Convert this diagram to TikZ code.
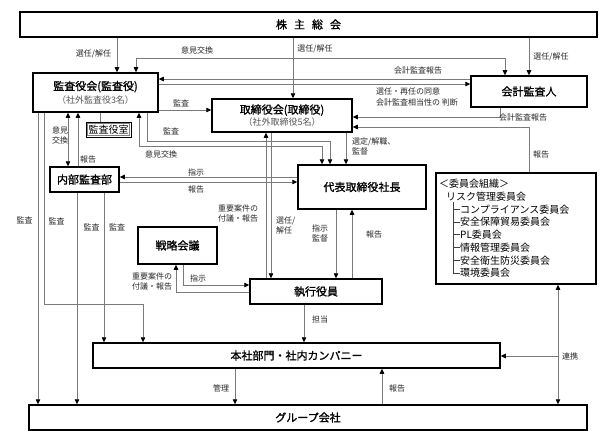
\documentclass[tikz,border=0pt]{standalone}
\usepackage{fontspec}
\setmainfont{Noto Sans CJK JP}
\newfontfamily\titlefont[FakeBold=1.2]{Noto Sans CJK JP}
\usetikzlibrary{arrows.meta}
\definecolor{lineg}{HTML}{7A7A7A}
\definecolor{subg}{HTML}{555555}
\newcommand{\subtxt}[1]{{\fontsize{9}{12}\selectfont\normalfont\color{subg}#1}}
\begin{document}
\begin{tikzpicture}[x=1pt,y=-1pt,
  box/.style={draw=black, line width=1.5pt, fill=white, inner sep=0pt, align=center,
    font=\titlefont\fontsize{11}{14}\selectfont},
  conn/.style={draw=lineg, line width=0.7pt},
  arr/.style={-{Triangle[length=5pt,width=4.5pt,color=black]}},
  darr/.style={{Triangle[length=5pt,width=4.5pt,color=black]}-{Triangle[length=5pt,width=4.5pt,color=black]}},
  lbl/.style={inner sep=0pt, font=\fontsize{8}{10}\selectfont, text=black!85},
  cfont/.style={inner sep=0pt, anchor=west, font=\fontsize{10}{12}\selectfont}
]
\useasboundingbox (0,0) rectangle (613,444);

% boxes
\node[box, minimum width=577pt, minimum height=25pt] (kabu) at (308.5,24.5) {株\hspace{7pt}主\hspace{7pt}総\hspace{7pt}会};
\node[box, minimum width=125pt, minimum height=39pt] (kansa) at (95.5,92.5) {監査役会(監査役)\\[-1pt]\subtxt{（社外監査役3名）}};
\node[draw=black, line width=0.8pt, inner sep=0pt, minimum width=45pt, minimum height=15pt,
  font=\fontsize{10}{12}\selectfont] (ks) at (108.5,129.5) {監査役室};
\draw[gray, line width=0.8pt] ([shift={(1.6,1.6)}]ks.north west) rectangle ([shift={(-1.6,-1.6)}]ks.south east);
\node[box, minimum width=140pt, minimum height=33pt] (tori) at (282,115.5) {取締役会(取締役)\\[-2pt]\subtxt{（社外取締役5名）}};
\node[box, minimum width=116pt, minimum height=31pt] (kaikei) at (529,91.5) {会計監査人};
\node[box, minimum width=69pt, minimum height=25pt] (naibu) at (84.5,179.5) {内部監査部};
\node[box, minimum width=128pt, minimum height=44pt] (daihyo) at (362,187) {代表取締役社長};
\node[box, minimum width=160pt, minimum height=111pt] (iinkai) at (516,228.5) {};
\node[box, minimum width=79pt, minimum height=37pt] (senryaku) at (177.5,245.5) {戦略会議};
\node[box, minimum width=132pt, minimum height=25pt] (shikko) at (316,291.5) {執行役員};
\node[box, minimum width=407pt, minimum height=25pt] (honsha) at (296.5,355.5) {本社部門・社内カンパニー};
\node[box, minimum width=558pt, minimum height=25pt] (group) at (308,417.5) {グループ会社};

% committee contents
\node[cfont] (c0) at (439,184) {＜委員会組織＞};
\node[cfont] (c1) at (446,197) {リスク管理委員会};
\node[cfont] (c2) at (460,209.5) {コンプライアンス委員会};
\node[cfont] (c3) at (460,222) {安全保障貿易委員会};
\node[cfont] (c4) at (460,234.5) {PL委員会};
\node[cfont] (c5) at (460,247.5) {情報管理委員会};
\node[cfont] (c6) at (460,260.5) {安全衛生防災委員会};
\node[cfont] (c7) at (460,273) {環境委員会};
\draw[black!75, line width=0.6pt] (453,0 |- c1.south) -- (453,0 |- c7.west);
\foreach \c in {c2,c3,c4,c5,c6,c7} \draw[black!75, line width=0.6pt] (453,0 |- \c.west) -- (\c.west);

% connectors
\draw[conn] (100,0 |- kansa.south) -- (100,0 |- ks.north);
\draw[conn,arr] (117,0 |- kabu.south) -- (117,0 |- kansa.north);
\draw[conn,darr] (136,0 |- kansa.north) -- (136,58) -- (505,58) -- (505,0 |- kaikei.north);
\draw[conn,arr] (293,0 |- kabu.south) -- (293,0 |- tori.north);
\draw[conn,arr] (kabu.south -| kaikei.north) -- (kaikei.north);
\draw[conn,arr] (kaikei.west |- 0,79) -- (kansa.east |- 0,79);
\draw[conn,arr] (kansa.east |- 0,84) -- (kaikei.west |- 0,84);
\draw[conn,arr] (500,0 |- kaikei.south) |- (tori.east |- 0,117);
\draw[conn,arr] (529,0 |- iinkai.north) |- (tori.east |- 0,127);
\draw[conn,arr] (kansa.east |- 0,110) -- (tori.west |- 0,110);
\draw[conn,arr] (147,0 |- kansa.south) |- (330,141) -- (330,0 |- daihyo.north);
\draw[conn,darr] (139,0 |- kansa.south) |- (322,146) -- (322,0 |- daihyo.north);
\draw[conn,arr] (346,0 |- tori.south) -- (346,0 |- daihyo.north);
\draw[conn,arr] (266,0 |- shikko.north) -- (266,0 |- tori.south);
\draw[conn,arr] (271,0 |- tori.south) -- (271,0 |- shikko.north);
\draw[conn,arr] (336,0 |- daihyo.south) -- (336,0 |- shikko.north);
\draw[conn,arr] (352,0 |- shikko.north) -- (352,0 |- daihyo.south);
\draw[conn,arr] (daihyo.west |- 0,177) -- (naibu.east |- 0,177);
\draw[conn,arr] (naibu.east |- 0,182) -- (daihyo.west |- 0,182);
\draw[conn,darr] (68,0 |- kansa.south) -- (68,0 |- naibu.north);
\draw[conn,arr] (78,0 |- naibu.north) -- (78,0 |- kansa.south);
\draw[conn,arr] (38,0 |- kansa.south) -- (38,0 |- group.north);
\draw[conn,arr] (44,0 |- kansa.south) |- (143,304) -- (143,0 |- honsha.north);
\draw[conn,arr] (77,0 |- naibu.south) -- (77,0 |- group.north);
\draw[conn,arr] (104,0 |- naibu.south) -- (104,0 |- honsha.north);
\draw[conn,arr] (183,0 |- senryaku.south) |- (shikko.west |- 0,285);
\draw[conn,arr] (shikko.west |- 0,292) -| (176,0 |- senryaku.south);
\draw[conn,arr] (304,0 |- shikko.south) -- (304,0 |- honsha.north);
\draw[conn,arr] (235,0 |- honsha.south) -- (235,0 |- group.north);
\draw[conn,arr] (382,0 |- group.north) -- (382,0 |- honsha.south);
\draw[conn,darr] (558,0 |- iinkai.south) -- (558,0 |- group.north);
\coordinate (rk) at (558,356);
\draw[conn,arr] (rk) -- (honsha.east |- rk);

% labels
\node[lbl] (l1) at (93.5,54) {選任/解任};
\node[lbl] (l2) at (197,50) {意見交換};
\node[lbl] (l3) at (315,49) {選任/解任};
\node[lbl] (l4) at (551,57) {選任/解任};
\node[lbl] (l5) at (418,70) {会計監査報告};
\node[lbl, anchor=west, align=left, font=\fontsize{8}{11}\selectfont] (l6) at (376,96.5) {選任・再任の同意\\会計監査相当性の 判断};
\node[lbl] (l7) at (523,117) {会計監査報告};
\node[lbl] (l8) at (181,103) {監査};
\node[lbl] (l9) at (171,131) {監査};
\node[lbl] (l10) at (161,154) {意見交換};
\node[lbl, align=center] (l11) at (60,135) {意見\\交換};
\node[lbl] (l12) at (88,159) {報告};
\node[lbl] (l13) at (196,172) {指示};
\node[lbl] (l14) at (196,189) {報告};
\node[lbl, anchor=west, align=left] (l15) at (352,146) {選定/解職、\\監督};
\node[lbl, anchor=west, align=left] (l16) at (218,213) {重要案件の\\付議・報告};
\node[lbl, anchor=west, align=left] (l17) at (276,225) {選任/\\解任};
\node[lbl, align=center] (l18) at (320,233) {指示\\監督};
\node[lbl] (l19) at (374,234) {報告};
\node[lbl] (l20) at (24.5,220) {監査};
\node[lbl] (l21) at (56.5,221) {監査};
\node[lbl] (l22) at (91.5,227) {監査};
\node[lbl] (l23) at (117,227) {監査};
\node[lbl, anchor=west, align=left] (l24) at (132,281.5) {重要案件の\\付議・報告};
\node[lbl] (l25) at (198,278) {指示};
\node[lbl] (l26) at (320,319) {担当};
\node[lbl] (l27) at (221,388) {管理};
\node[lbl] (l28) at (397,388) {報告};
\node[lbl] (l29) at (570,356) {連携};
\node[lbl] (l30) at (541,154) {報告};
\end{tikzpicture}
\end{document}
